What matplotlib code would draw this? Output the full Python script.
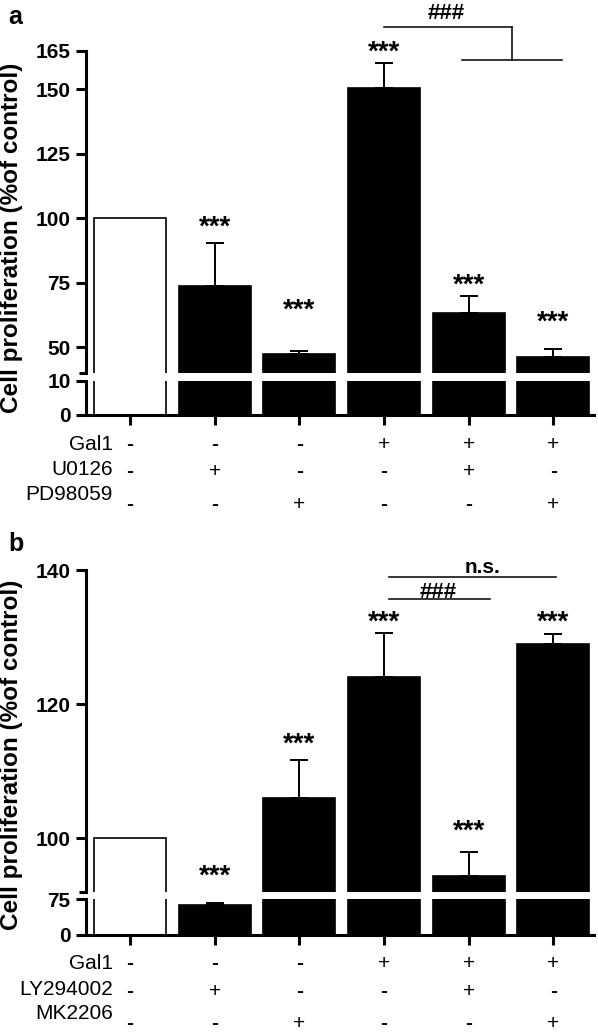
import matplotlib
matplotlib.use("Agg")
import matplotlib.pyplot as plt
import matplotlib.transforms as mtransforms
import numpy as np

plt.rcParams['font.family'] = ['Liberation Sans', 'DejaVu Sans']

# ---------------- data ----------------
a_values = [100, 73.7, 47.4, 150.3, 63.2, 46.4]
a_errors = [0, 16.7, 1.3, 9.7, 6.6, 3.1]
a_colors = ['white', 'black', 'black', 'black', 'black', 'black']
a_gal1 = ['-', '-', '-', '+', '+', '+']
a_u0126 = ['-', '+', '-', '-', '+', '-']
a_pd98059 = ['-', '-', '+', '-', '-', '+']
a_rows = ['Gal1', 'U0126', 'PD98059']
a_star_y = [None, 99.6, 67.4, 167.2, 77.1, 62.7]
a_upper_ticks = [50, 75, 100, 125, 150, 165]
a_lower_ticks = [0, 10]

b_values = [100, 63.2, 106.0, 124.0, 94.4, 129.0]
b_errors = [0, 3.5, 5.6, 6.6, 3.5, 1.5]
b_colors = ['white', 'black', 'black', 'black', 'black', 'black']
b_gal1 = ['-', '-', '-', '+', '+', '+']
b_ly294002 = ['-', '+', '-', '-', '+', '-']
b_mk2206 = ['-', '-', '+', '-', '-', '+']
b_rows = ['Gal1', 'LY294002', 'MK2206']
b_star_y = [None, 95.5, 115.2, 133.4, 102.2, 133.4]
b_upper_ticks = [100, 120, 140]
b_lower_ticks = [0, 75]

ylabel = 'Cell proliferation (%of control)'

W, H = 598, 1032
fig = plt.figure(figsize=(W / 100, H / 100), dpi=100)


def fx(px):
    return px / W


def fy(px):
    return 1 - px / H


def make_panel(top_up, bot_up, top_lo, bot_lo, up_lim, lo_lim, up_ticks, lo_ticks):
    left = fx(86)
    width = fx(594) - fx(86)
    ax_up = fig.add_axes([left, fy(bot_up), width, fy(top_up) - fy(bot_up)])
    ax_lo = fig.add_axes([left, fy(bot_lo), width, fy(top_lo) - fy(bot_lo)])
    for ax in (ax_up, ax_lo):
        ax.set_xlim(-0.52, 5.48)
        ax.spines['right'].set_visible(False)
        ax.spines['top'].set_visible(False)
        ax.spines['left'].set_linewidth(2.2)
        ax.spines['bottom'].set_linewidth(2.2)
        ax.tick_params(axis='y', length=7, width=2.2, pad=4, labelsize=15)
        ax.patch.set_alpha(0)
    ax_up.spines['bottom'].set_visible(False)
    ax_up.set_ylim(*up_lim)
    ax_lo.set_ylim(*lo_lim)
    ax_up.set_yticks(up_ticks)
    ax_up.set_yticks([up_lim[0]], minor=True)
    ax_up.tick_params(axis='y', which='minor', length=5, width=2.2)
    ax_lo.set_yticks(lo_ticks)
    ax_up.set_xticks([])
    ax_lo.set_xticks(np.arange(6))
    ax_lo.set_xticklabels([''] * 6)
    ax_lo.tick_params(axis='x', length=7, width=2.2)
    for ax in (ax_up, ax_lo):
        for lbl in ax.get_yticklabels():
            lbl.set_fontweight('bold')
    return ax_up, ax_lo


def draw_bars(axes, values, errors, colors):
    x = np.arange(len(values))
    for ax in axes:
        ax.bar(x, values, width=0.85, color=colors, edgecolor='black', linewidth=1.2, zorder=2)
        ax.errorbar(x[1:], values[1:], yerr=[np.zeros(len(values) - 1), errors[1:]],
                    fmt='none', ecolor='black', elinewidth=1.4, capsize=6.5, capthick=1.4, zorder=1)


def draw_stars(ax, star_y):
    for i, y in enumerate(star_y):
        if y is None:
            continue
        ax.annotate('***', xy=(i, y), xytext=(0, -11.0), textcoords='offset points',
                    ha='center', va='baseline', fontsize=20, fontweight='bold',
                    annotation_clip=False)


def draw_rows(ax, labels, rows, base_px):
    trans = mtransforms.blended_transform_factory(ax.transData, fig.transFigure)
    offsets = [29, 57, 89]
    label_offsets = [29, 55, 79]
    for r, (lab, signs) in enumerate(zip(labels, rows)):
        fig.text(fx(113), fy(base_px + label_offsets[r]), lab, ha='right', va='center', fontsize=15)
        for i, s in enumerate(signs):
            ax.text(i, fy(base_px + offsets[r]), s, transform=trans, ha='center', va='center',
                    fontsize=15, fontweight='bold' if s == '-' else 'normal')


# ---------------- panel a ----------------
a_up, a_lo = make_panel(50.5, 373.3, 380.5, 415, (40, 165), (0, 10), a_upper_ticks, a_lower_ticks)
draw_bars((a_up, a_lo), a_values, a_errors, a_colors)
draw_stars(a_up, a_star_y)
draw_rows(a_lo, a_rows, [a_gal1, a_u0126, a_pd98059], 415)
# bracket ###
a_up.plot([3.0, 4.51], [174.1, 174.1], color='black', lw=1.1, clip_on=False)
a_up.plot([4.51, 4.51], [174.1, 161.3], color='black', lw=1.1, clip_on=False)
a_up.plot([3.92, 5.1], [161.3, 161.3], color='black', lw=1.1, clip_on=False)
a_up.text(3.74, 177.3, '###', ha='center', va='baseline', fontsize=16, fontweight='bold', clip_on=False)

# ---------------- panel b ----------------
b_up, b_lo = make_panel(570, 891.7, 899.3, 934.5, (92, 140), (0, 75), b_upper_ticks, b_lower_ticks)
draw_bars((b_up, b_lo), b_values, b_errors, b_colors)
draw_stars(b_up, b_star_y)
draw_rows(b_lo, b_rows, [b_gal1, b_ly294002, b_mk2206], 934.5)
b_up.plot([3.06, 5.03], [139.0, 139.0], color='black', lw=1.1, clip_on=False)
b_up.text(4.16, 139.5, 'n.s.', ha='center', va='baseline', fontsize=15, fontweight='bold', clip_on=False)
b_up.plot([3.06, 4.25], [135.7, 135.7], color='black', lw=1.1, clip_on=False)
b_up.text(3.64, 135.75, '###', ha='center', va='baseline', fontsize=16, fontweight='bold', clip_on=False)

# ---------------- labels ----------------
fig.text(fx(12), fy(237.5), ylabel, rotation=90, ha='center', va='center', fontsize=17.5, fontweight='bold')
fig.text(fx(12), fy(755), ylabel, rotation=90, ha='center', va='center', fontsize=17.5, fontweight='bold')
fig.text(fx(8), fy(24), 'a', ha='left', va='baseline', fontsize=18, fontweight='bold')
fig.text(fx(8), fy(551), 'b', ha='left', va='baseline', fontsize=18, fontweight='bold')

fig.savefig('out.png', dpi=100)
